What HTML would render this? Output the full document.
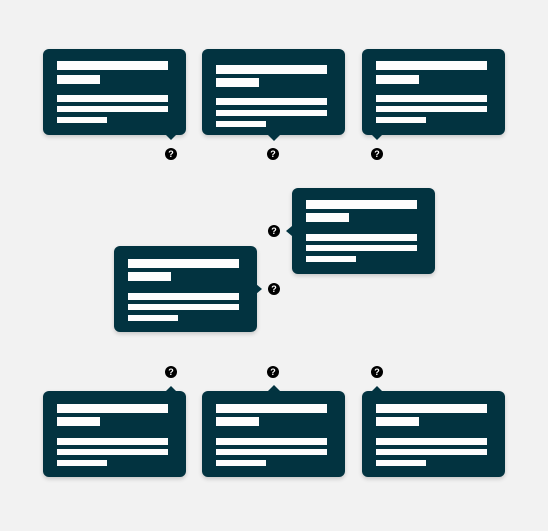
<!DOCTYPE html>
<html><head><style>
body{margin:0;width:548px;height:531px;background:#f2f2f2;position:relative;overflow:hidden;font-family:"Liberation Sans",sans-serif}
.c{position:absolute;width:143px;height:86px;background:#023340;border-radius:6px;box-shadow:0 2px 4px rgba(0,0,0,.18)}
.b{position:absolute;left:14px;background:#fdfdfd}
.t{position:absolute;width:0;height:0}
.q{position:absolute;width:12px;height:12px;border-radius:50%;background:#000;color:#fff;font-size:9px;font-weight:bold;line-height:12px;text-align:center}
</style></head><body>
<div class="c" style="left:43px;top:49px"><div class="b" style="top:12px;width:111px;height:9px"></div><div class="b" style="top:26px;width:43px;height:9px"></div><div class="b" style="top:46px;width:111px;height:7px"></div><div class="b" style="top:57px;width:111px;height:6px"></div><div class="b" style="top:68px;width:50px;height:6px"></div></div>
<div class="c" style="left:202px;top:49px"><div class="b" style="top:16px;width:111px;height:9px"></div><div class="b" style="top:29px;width:43px;height:9px"></div><div class="b" style="top:49px;width:111px;height:7px"></div><div class="b" style="top:61px;width:111px;height:6px"></div><div class="b" style="top:72px;width:50px;height:6px"></div></div>
<div class="c" style="left:362px;top:49px"><div class="b" style="top:12px;width:111px;height:9px"></div><div class="b" style="top:26px;width:43px;height:9px"></div><div class="b" style="top:46px;width:111px;height:7px"></div><div class="b" style="top:57px;width:111px;height:6px"></div><div class="b" style="top:68px;width:50px;height:6px"></div></div>
<div class="t" style="left:166px;top:135px;border-left:5px solid transparent;border-right:5px solid transparent;border-top:5px solid #023340"></div>
<div class="t" style="left:268px;top:135px;border-left:6px solid transparent;border-right:6px solid transparent;border-top:6px solid #023340"></div>
<div class="t" style="left:372px;top:135px;border-left:5px solid transparent;border-right:5px solid transparent;border-top:5px solid #023340"></div>
<div class="q" style="left:165px;top:148px">?</div>
<div class="q" style="left:267px;top:148px">?</div>
<div class="q" style="left:371px;top:148px">?</div>

<div class="c" style="left:292px;top:188px"><div class="b" style="top:12px;width:111px;height:9px"></div><div class="b" style="top:25px;width:43px;height:9px"></div><div class="b" style="top:46px;width:111px;height:7px"></div><div class="b" style="top:57px;width:111px;height:6px"></div><div class="b" style="top:68px;width:50px;height:6px"></div></div>
<div class="t" style="left:286px;top:226px;border-top:5px solid transparent;border-bottom:5px solid transparent;border-right:6px solid #023340"></div>
<div class="q" style="left:268px;top:225px">?</div>
<div class="c" style="left:114px;top:246px"><div class="b" style="top:13px;width:111px;height:9px"></div><div class="b" style="top:26px;width:43px;height:9px"></div><div class="b" style="top:47px;width:111px;height:7px"></div><div class="b" style="top:58px;width:111px;height:6px"></div><div class="b" style="top:69px;width:50px;height:6px"></div></div>
<div class="t" style="left:256px;top:284px;border-top:5px solid transparent;border-bottom:5px solid transparent;border-left:6px solid #023340"></div>
<div class="q" style="left:268px;top:283px">?</div>

<div class="c" style="left:43px;top:391px"><div class="b" style="top:13px;width:111px;height:9px"></div><div class="b" style="top:26px;width:43px;height:9px"></div><div class="b" style="top:47px;width:111px;height:7px"></div><div class="b" style="top:58px;width:111px;height:6px"></div><div class="b" style="top:69px;width:50px;height:6px"></div></div>
<div class="c" style="left:202px;top:391px"><div class="b" style="top:13px;width:111px;height:9px"></div><div class="b" style="top:26px;width:43px;height:9px"></div><div class="b" style="top:47px;width:111px;height:7px"></div><div class="b" style="top:58px;width:111px;height:6px"></div><div class="b" style="top:69px;width:50px;height:6px"></div></div>
<div class="c" style="left:362px;top:391px"><div class="b" style="top:13px;width:111px;height:9px"></div><div class="b" style="top:26px;width:43px;height:9px"></div><div class="b" style="top:47px;width:111px;height:7px"></div><div class="b" style="top:58px;width:111px;height:6px"></div><div class="b" style="top:69px;width:50px;height:6px"></div></div>
<div class="t" style="left:166px;top:386px;border-left:5px solid transparent;border-right:5px solid transparent;border-bottom:5px solid #023340"></div>
<div class="t" style="left:268px;top:385px;border-left:6px solid transparent;border-right:6px solid transparent;border-bottom:6px solid #023340"></div>
<div class="t" style="left:372px;top:386px;border-left:5px solid transparent;border-right:5px solid transparent;border-bottom:5px solid #023340"></div>
<div class="q" style="left:165px;top:366px">?</div>
<div class="q" style="left:267px;top:366px">?</div>
<div class="q" style="left:371px;top:366px">?</div>
</body></html>
